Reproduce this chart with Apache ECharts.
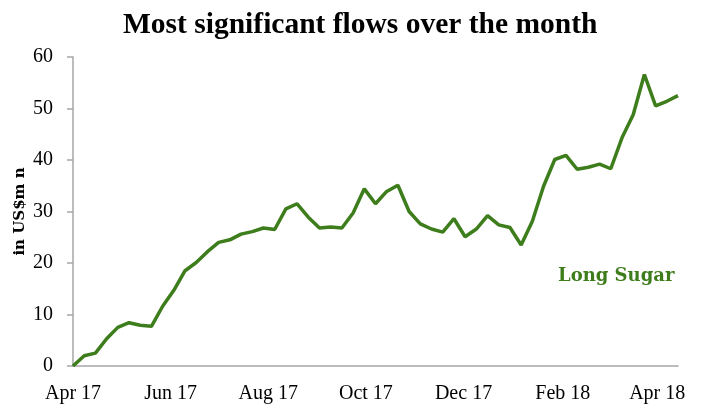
<!DOCTYPE html>
<html>
<head>
<meta charset="utf-8">
<script src="https://cdn.jsdelivr.net/npm/echarts@6/dist/echarts.min.js"></script>
<style>html,body{margin:0;padding:0;background:#fff}#c{width:705px;height:405px}</style>
</head>
<body>
<div id="c"></div>
<script>
var titleText = 'Most significant flows over the month';
var yAxisName = 'in US$m n';
var seriesName = 'Long Sugar';
var dates = [
 '2017-04-01','2017-04-08','2017-04-15','2017-04-22','2017-04-29',
 '2017-05-06','2017-05-13','2017-05-20','2017-05-27',
 '2017-06-03','2017-06-10','2017-06-17','2017-06-24',
 '2017-07-01','2017-07-08','2017-07-15','2017-07-22','2017-07-29',
 '2017-08-05','2017-08-12','2017-08-19','2017-08-26',
 '2017-09-02','2017-09-09','2017-09-16','2017-09-23','2017-09-30',
 '2017-10-07','2017-10-14','2017-10-21','2017-10-28',
 '2017-11-04','2017-11-11','2017-11-18','2017-11-25',
 '2017-12-02','2017-12-09','2017-12-16','2017-12-23','2017-12-30',
 '2018-01-06','2018-01-13','2018-01-20','2018-01-27',
 '2018-02-03','2018-02-10','2018-02-17','2018-02-24',
 '2018-03-03','2018-03-10','2018-03-17','2018-03-24','2018-03-31',
 '2018-04-07','2018-04-14'
];
var longSugar = [
 0, 2.0, 2.5, 5.3, 7.5, 8.4, 7.9, 7.7, 11.6, 14.7,
 18.5, 20.1, 22.2, 24.0, 24.5, 25.6, 26.1, 26.8, 26.5, 30.5,
 31.5, 28.9, 26.8, 27.0, 26.8, 29.7, 34.4, 31.5, 33.9, 35.1,
 30.0, 27.6, 26.6, 26.0, 28.6, 25.1, 26.6, 29.2, 27.4, 26.9,
 23.5, 28.1, 34.9, 40.1, 40.9, 38.2, 38.6, 39.2, 38.3, 44.3,
 48.8, 56.6, 50.5, 51.4, 52.5
];
var xTickDates = ['2017-04-01','2017-06-01','2017-08-01','2017-10-01','2017-12-01','2018-02-01','2018-04-01'];
var xTickLabels = ['Apr 17','Jun 17','Aug 17','Oct 17','Dec 17','Feb 18','Apr 18'];
var yMin = 0, yMax = 60, yStep = 10;

// x positions as day numbers (UTC-based, timezone independent)
function dayNum(s){var p=s.split('-');return Date.UTC(+p[0],+p[1]-1,+p[2])/86400000;}
var tickDays = xTickDates.map(dayNum);
var labelMap = {};
tickDays.forEach(function(t,i){labelMap[t]=xTickLabels[i];});
var seriesData = dates.map(function(d,i){return [dayNum(d), longSugar[i]];});

var green = '#3d7d1c';
var chart = echarts.init(document.getElementById('c'), null, {renderer:'canvas'});
chart.setOption({
  animation: false,
  backgroundColor: '#fff',
  title: {
    text: titleText, left: 123, top: 10, padding: 0,
    textStyle: {fontFamily: 'Liberation Serif', fontWeight: 'bold', fontSize: 29.5, color: '#000'}
  },
  grid: {left: 73, right: 27, top: 57, bottom: 39, containLabel: false},
  xAxis: {
    type: 'value',
    min: dayNum(dates[0]), max: dayNum(dates[dates.length-1]),
    axisLine: {show: true, lineStyle: {color: '#a6a6a6', width: 1.5}},
    axisTick: {show: false},
    splitLine: {show: false},
    axisLabel: {
      customValues: tickDays,
      margin: 18,
      fontFamily: 'Liberation Serif', fontSize: 20, color: '#000',
      hideOverlap: false, showMinLabel: true, showMaxLabel: true,
      formatter: function(v){ return labelMap[Math.round(v)] || ''; }
    }
  },
  yAxis: {
    type: 'value', min: yMin, max: yMax, interval: yStep,
    name: yAxisName, nameLocation: 'middle', nameGap: 45, nameRotate: 90,
    nameMoveOverlap: false,
    nameTextStyle: {fontFamily: 'DejaVu Serif', fontWeight: 'bold', fontSize: 15, color: '#000'},
    axisLine: {show: true, lineStyle: {color: '#a6a6a6', width: 1.5}},
    axisTick: {show: true, inside: false, length: 6, lineStyle: {color: '#a6a6a6', width: 1.5}},
    splitLine: {show: false},
    axisLabel: {margin: 20, fontFamily: 'Liberation Serif', fontSize: 20, color: '#000'}
  },
  graphic: [{
    type: 'text', left: 558, top: 267,
    style: {text: seriesName, fill: green, font: 'bold 18px "DejaVu Serif"'}
  }],
  series: [{
    name: seriesName, type: 'line', data: seriesData,
    showSymbol: false, symbol: 'none', smooth: false,
    lineStyle: {color: green, width: 3.5}
  }]
});
</script>
</body>
</html>
